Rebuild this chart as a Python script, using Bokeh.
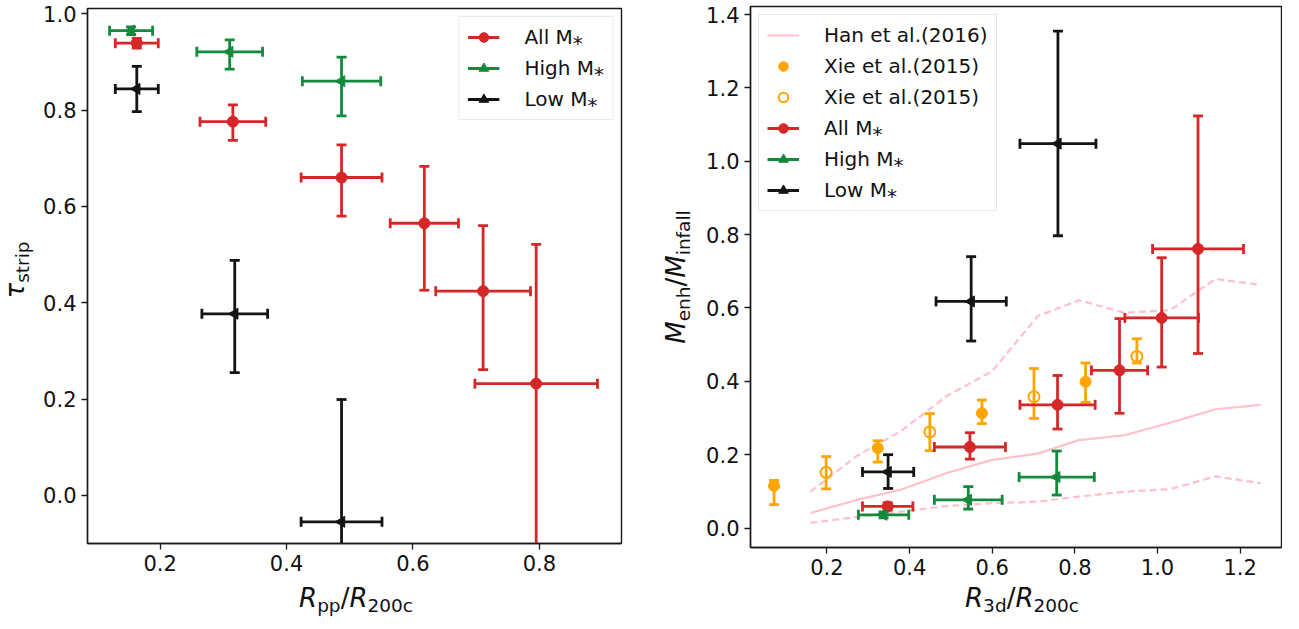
import math
from bokeh.plotting import figure
from bokeh.models import (ColumnDataSource, FixedTicker, PrintfTickFormatter, Range1d,
                          Legend, LegendItem, Div)
from bokeh.layouts import row, column
from bokeh.embed import file_html
from bokeh.resources import INLINE

# ---------------- data: left panel (tau_strip vs R_pp/R_200c) ----------------
L_all_x = [0.163, 0.315, 0.487, 0.618, 0.711, 0.795]
L_all_xerr = [0.034, 0.052, 0.064, 0.054, 0.075, 0.097]
L_all_y = [0.939, 0.776, 0.660, 0.565, 0.424, 0.232]
L_all_yhi = [0.010, 0.035, 0.068, 0.118, 0.136, 0.289]
L_all_ylo = [0.010, 0.039, 0.080, 0.139, 0.163, 0.400]

L_high_x = [0.154, 0.310, 0.487]
L_high_xerr = [0.034, 0.052, 0.062]
L_high_y = [0.965, 0.921, 0.860]
L_high_yhi = [0.008, 0.025, 0.050]
L_high_ylo = [0.008, 0.036, 0.072]

L_low_x = [0.163, 0.318, 0.487]
L_low_xerr = [0.034, 0.052, 0.064]
L_low_y = [0.844, 0.377, -0.055]
L_low_yhi = [0.047, 0.111, 0.254]
L_low_ylo = [0.047, 0.122, 0.254]

L_xticks = [0.2, 0.4, 0.6, 0.8]
L_yticks = [0.0, 0.2, 0.4, 0.6, 0.8, 1.0]

# ---------------- data: right panel (M_enh/M_infall vs R_3d/R_200c) ----------------
han_x = [0.16, 0.27, 0.38, 0.49, 0.60, 0.71, 0.81, 0.92, 1.03, 1.14, 1.25]
han_mid = [0.041, 0.076, 0.105, 0.150, 0.186, 0.203, 0.240, 0.253, 0.287, 0.324, 0.336]
han_up = [0.099, 0.195, 0.265, 0.360, 0.428, 0.578, 0.621, 0.587, 0.594, 0.679, 0.663]
han_lo = [0.014, 0.030, 0.045, 0.060, 0.068, 0.072, 0.086, 0.099, 0.106, 0.141, 0.122]

xie_f_x = [0.072, 0.323, 0.575, 0.826]
xie_f_y = [0.115, 0.218, 0.313, 0.399]
xie_f_yhi = [0.015, 0.020, 0.036, 0.051]
xie_f_ylo = [0.051, 0.038, 0.028, 0.056]

xie_o_x = [0.198, 0.449, 0.701, 0.950]
xie_o_y = [0.152, 0.262, 0.358, 0.468]
xie_o_yhi = [0.043, 0.050, 0.077, 0.048]
xie_o_ylo = [0.045, 0.051, 0.059, 0.018]

R_all_x = [0.347, 0.546, 0.758, 0.908, 1.010, 1.098]
R_all_xerr = [0.061, 0.086, 0.091, 0.068, 0.089, 0.110]
R_all_y = [0.059, 0.221, 0.336, 0.430, 0.573, 0.761]
R_all_yhi = [0.010, 0.039, 0.080, 0.141, 0.164, 0.363]
R_all_ylo = [0.010, 0.033, 0.066, 0.117, 0.134, 0.285]

R_high_x = [0.337, 0.542, 0.756]
R_high_xerr = [0.061, 0.082, 0.091]
R_high_y = [0.036, 0.077, 0.139]
R_high_yhi = [0.008, 0.036, 0.071]
R_high_ylo = [0.008, 0.025, 0.049]

R_low_x = [0.348, 0.549, 0.759]
R_low_xerr = [0.062, 0.085, 0.092]
R_low_y = [0.153, 0.618, 1.048]
R_low_yhi = [0.047, 0.122, 0.307]
R_low_ylo = [0.045, 0.108, 0.251]

R_xticks = [0.2, 0.4, 0.6, 0.8, 1.0, 1.2]
R_yticks = [0.0, 0.2, 0.4, 0.6, 0.8, 1.0, 1.2, 1.4]

legend_labels = ["Han et al.(2016)", "Xie et al.(2015)", "Xie et al.(2015)",
                 "All M\u204e", "High M\u204e", "Low M\u204e"]

# axis titles as (text, is_subscript, italic) pieces
L_xlabel = [("R", False, True), ("pp", True, False), ("/", False, False),
            ("R", False, True), ("200c", True, False)]
L_ylabel = [("\u03c4", False, True), ("strip", True, False)]
R_xlabel = [("R", False, True), ("3d", True, False), ("/", False, False),
            ("R", False, True), ("200c", True, False)]
R_ylabel = [("M", False, True), ("enh", True, False), ("/", False, False),
            ("M", False, True), ("infall", True, False)]

# ---------------- styles ----------------
RED = "#d62728"
GREEN = "#13893c"
BLACK = "#141414"
ORANGE = "#ffa500"
PINK = "#ffc0cb"
FONT = "DejaVu Sans"
EB_W = 2.8
CAP = 10


def make_fig(xr, yr, fw, fh, bl, br, bt, bb, xt, yt):
    p = figure(output_backend="svg", toolbar_location=None,
               x_range=Range1d(*xr), y_range=Range1d(*yr),
               frame_width=fw, frame_height=fh,
               min_border_left=bl, min_border_right=br,
               min_border_top=bt, min_border_bottom=bb)
    p.background_fill_color = "white"
    p.border_fill_color = "white"
    p.outline_line_color = "#1a1a1a"
    p.outline_line_width = 1.4
    p.grid.visible = False
    for ax, ticks in ((p.xaxis, xt), (p.yaxis, yt)):
        ax.ticker = FixedTicker(ticks=ticks)
        ax.formatter = PrintfTickFormatter(format="%.1f")
        ax.major_label_text_font = FONT
        ax.major_label_text_font_size = "21px"
        ax.major_label_text_color = "#111111"
        ax.major_tick_out = 6
        ax.major_tick_in = 0
        ax.minor_tick_line_color = None
        ax.major_tick_line_color = "#1a1a1a"
        ax.major_tick_line_width = 1.3
        ax.axis_line_color = "#1a1a1a"
        ax.axis_line_width = 1.4
        ax.major_label_standoff = 5
    return p


def errorbars(p, x, y, ylo, yhi, color, xerr=None):
    d = dict(x=x, y=y,
             y0=[a - b for a, b in zip(y, ylo)],
             y1=[a + b for a, b in zip(y, yhi)])
    if xerr is not None:
        d["x0"] = [a - b for a, b in zip(x, xerr)]
        d["x1"] = [a + b for a, b in zip(x, xerr)]
    src = ColumnDataSource(d)
    p.segment(x0="x", y0="y0", x1="x", y1="y1", source=src,
              line_color=color, line_width=EB_W)
    p.scatter(x="x", y="y0", source=src, marker="dash", size=CAP,
              line_color=color, line_width=EB_W)
    p.scatter(x="x", y="y1", source=src, marker="dash", size=CAP,
              line_color=color, line_width=EB_W)
    hseg = None
    if xerr is not None:
        hseg = p.segment(x0="x0", y0="y", x1="x1", y1="y", source=src,
                         line_color=color, line_width=EB_W)
        p.scatter(x="x0", y="y", source=src, marker="dash", size=CAP, angle=math.pi / 2,
                  line_color=color, line_width=EB_W)
        p.scatter(x="x1", y="y", source=src, marker="dash", size=CAP, angle=math.pi / 2,
                  line_color=color, line_width=EB_W)
    return src, hseg


def series(p, x, y, xerr, ylo, yhi, color, marker):
    src, hseg = errorbars(p, x, y, ylo, yhi, color, xerr)
    if marker == "circle":
        r = p.scatter(x="x", y="y", source=src, marker="circle", size=11,
                      fill_color=color, line_color=color)
    else:
        r = p.scatter(x="x", y="y", source=src, marker="triangle", size=11,
                      angle=math.pi / 2, fill_color=color, line_color=color)
    return [hseg, r]


def make_legend(items, loc):
    return Legend(items=items, location=loc, margin=8, padding=8, spacing=7,
                  label_text_font=FONT, label_text_font_size="20px",
                  label_text_color="#111111",
                  label_height=24, glyph_height=24, glyph_width=32, label_standoff=25,
                  border_line_color="#d4d4d4", border_line_width=1.2,
                  background_fill_color="white", background_fill_alpha=0.85)


def pieces_html(pieces):
    out = []
    for t, sub, it in pieces:
        if sub:
            out.append(f'<span style="font-size:18.5px;position:relative;top:5px;">{t}</span>')
        elif it:
            out.append(f'<i>{t}</i>')
        else:
            out.append(t)
    return "".join(out)


def xlabel_div(pieces, width, height, cx, top):
    html = (f'<div style="position:relative;width:{width}px;height:{height}px;'
            f"font-family:'DejaVu Sans';color:#111111;\">"
            f'<div style="position:absolute;left:{cx}px;top:{top}px;transform:translateX(-50%);'
            f'white-space:nowrap;font-size:26px;line-height:26px;">{pieces_html(pieces)}</div></div>')
    return Div(text=html, width=width, height=height, margin=0)


def ylabel_div(pieces, width, height, cx, cy):
    html = (f'<div style="position:relative;width:{width}px;height:{height}px;'
            f"font-family:'DejaVu Sans';color:#111111;\">"
            f'<div style="position:absolute;left:{cx}px;top:{cy}px;'
            f'transform:translate(-50%,-50%) rotate(-90deg);'
            f'white-space:nowrap;font-size:26px;line-height:26px;">{pieces_html(pieces)}</div></div>')
    return Div(text=html, width=width, height=height, margin=0)


# ================= left panel =================
p1 = make_fig((0.085, 0.93), (-0.1, 1.011), 534, 535, 51, 30, 8, 40, L_xticks, L_yticks)
r_all = series(p1, L_all_x, L_all_y, L_all_xerr, L_all_ylo, L_all_yhi, RED, "circle")
r_high = series(p1, L_high_x, L_high_y, L_high_xerr, L_high_ylo, L_high_yhi, GREEN, "tri")
r_low = series(p1, L_low_x, L_low_y, L_low_xerr, L_low_ylo, L_low_yhi, BLACK, "tri")
p1.add_layout(make_legend([LegendItem(label=legend_labels[3], renderers=r_all),
                           LegendItem(label=legend_labels[4], renderers=r_high),
                           LegendItem(label=legend_labels[5], renderers=r_low)], "top_right"))

# ================= right panel =================
p2 = make_fig((0.015, 1.30), (-0.053, 1.422), 531, 541, 47, 1, 6, 38, R_xticks, R_yticks)
han_src = ColumnDataSource(dict(x=han_x, mid=han_mid, up=han_up, lo=han_lo))
r_han = p2.line(x="x", y="mid", source=han_src, line_color=PINK, line_width=2.2)
p2.line(x="x", y="up", source=han_src, line_color=PINK, line_width=2.2, line_dash="7 4")
p2.line(x="x", y="lo", source=han_src, line_color=PINK, line_width=2.2, line_dash="7 4")

sf, _ = errorbars(p2, xie_f_x, xie_f_y, xie_f_ylo, xie_f_yhi, ORANGE)
r_xf = p2.scatter(x="x", y="y", source=sf, marker="circle", size=11,
                  fill_color=ORANGE, line_color=ORANGE)
so, _ = errorbars(p2, xie_o_x, xie_o_y, xie_o_ylo, xie_o_yhi, ORANGE)
r_xo = p2.scatter(x="x", y="y", source=so, marker="circle", size=11,
                  fill_color=None, line_color=ORANGE, line_width=2)

r2_all = series(p2, R_all_x, R_all_y, R_all_xerr, R_all_ylo, R_all_yhi, RED, "circle")
r2_high = series(p2, R_high_x, R_high_y, R_high_xerr, R_high_ylo, R_high_yhi, GREEN, "tri")
r2_low = series(p2, R_low_x, R_low_y, R_low_xerr, R_low_ylo, R_low_yhi, BLACK, "tri")

p2.add_layout(make_legend([LegendItem(label=legend_labels[0], renderers=[r_han]),
                           LegendItem(label=legend_labels[1], renderers=[r_xf]),
                           LegendItem(label=legend_labels[2], renderers=[r_xo]),
                           LegendItem(label=legend_labels[3], renderers=r2_all),
                           LegendItem(label=legend_labels[4], renderers=r2_high),
                           LegendItem(label=legend_labels[5], renderers=r2_low)], "top_left"))

# ================= axis titles (HTML text with sub/italics) =================
ylab1 = ylabel_div(L_ylabel, 36, 613, 16, 270)
xlab1 = xlabel_div(L_xlabel, 615, 30, 320, 2)
ylab2 = ylabel_div(R_ylabel, 52, 613, 26, 277)
xlab2 = xlabel_div(R_xlabel, 579, 28, 319, 0)

layout = row(ylab1, column(p1, xlab1), ylab2, column(p2, xlab2))
open("out.html", "w").write(file_html(layout, INLINE))
